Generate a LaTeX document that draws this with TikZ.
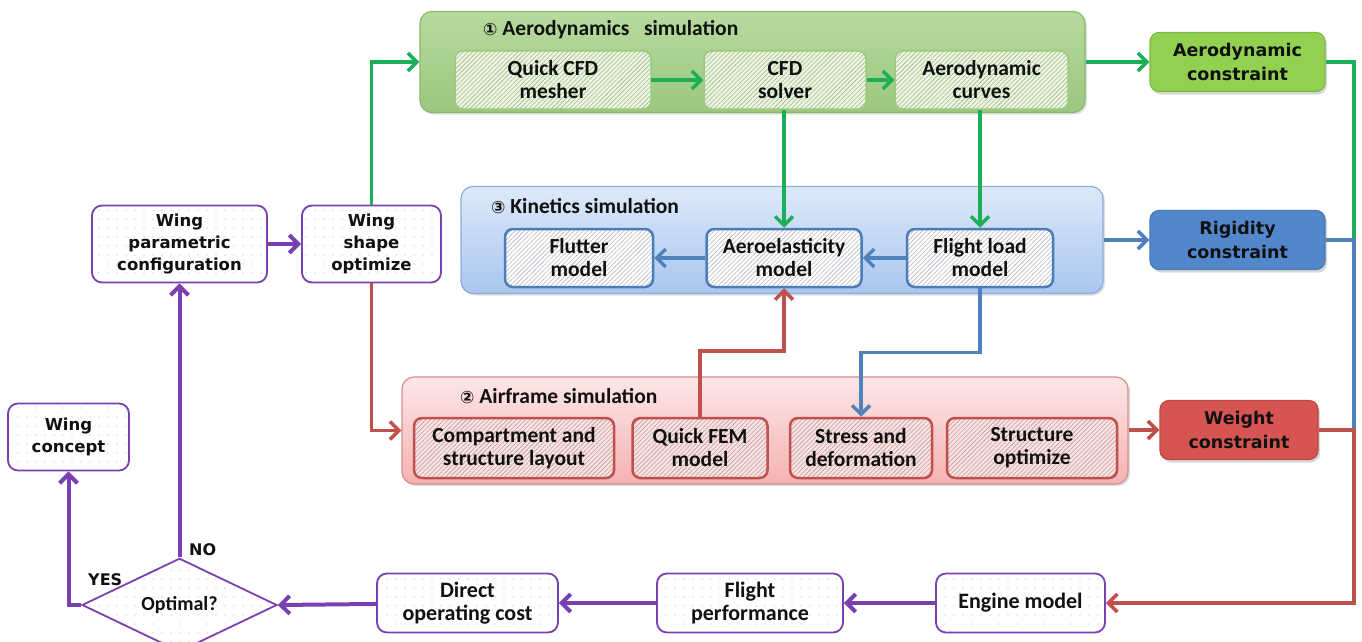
\documentclass[tikz,border=0pt]{standalone}
\usepackage{fontspec}
\setmainfont{Carlito}
\newfontfamily\widefont{DejaVu Sans}
\newfontfamily\symfont{DejaVu Sans}
\usetikzlibrary{patterns.meta,arrows.meta,shadows,shapes.geometric,calc}
\definecolor{grntop}{HTML}{B7DA9E}
\definecolor{grnbot}{HTML}{9CC77F}
\definecolor{grnborder}{HTML}{86B866}
\definecolor{grnarrow}{HTML}{1DAE5A}
\definecolor{grninner}{HTML}{EDF5E3}
\definecolor{grnhatch}{HTML}{9FB98A}
\definecolor{grninb}{HTML}{9DC97F}
\definecolor{aerocon}{HTML}{92D050}
\definecolor{aeroconb}{HTML}{7DB845}
\definecolor{bluetop}{HTML}{DDE9F9}
\definecolor{bluebot}{HTML}{A9C6EF}
\definecolor{blueborder}{HTML}{8DACDB}
\definecolor{bluearrow}{HTML}{4F81BD}
\definecolor{blueinb}{HTML}{4D7DB8}
\definecolor{bluehatch}{HTML}{B4B9C0}
\definecolor{rigcon}{HTML}{5387CC}
\definecolor{rigconb}{HTML}{4A79B8}
\definecolor{redtop}{HTML}{FDE6E6}
\definecolor{redbot}{HTML}{F5B2B2}
\definecolor{redborder}{HTML}{D98C8C}
\definecolor{redarrow}{HTML}{C0504D}
\definecolor{redinner}{HTML}{FAE3E3}
\definecolor{redhatch}{HTML}{BF9C9C}
\definecolor{redinb}{HTML}{C0504D}
\definecolor{weightcon}{HTML}{D65552}
\definecolor{weightconb}{HTML}{BF4744}
\definecolor{purp}{HTML}{7A3FB0}
\definecolor{dotcol}{HTML}{B8B8B8}
\definecolor{txt}{HTML}{111111}
\tikzset{
  basebox/.style={rounded corners=8pt, align=center, inner sep=0pt, text=txt,
    font=\fontsize{21.5}{23}\selectfont\bfseries},
  gcont/.style={rounded corners=12pt, draw=grnborder, line width=1.2pt,
    top color=grntop, bottom color=grnbot, drop shadow={opacity=0.25,shadow xshift=2pt,shadow yshift=-2pt}},
  bcont/.style={rounded corners=12pt, draw=blueborder, line width=1.2pt,
    top color=bluetop, bottom color=bluebot, drop shadow={opacity=0.25,shadow xshift=2pt,shadow yshift=-2pt}},
  rcont/.style={rounded corners=12pt, draw=redborder, line width=1.2pt,
    top color=redtop, bottom color=redbot, drop shadow={opacity=0.25,shadow xshift=2pt,shadow yshift=-2pt}},
  ginner/.style={basebox, draw=grninb, line width=1.5pt, preaction={fill=grninner},
    pattern={Lines[angle=45,distance=3.2pt,line width=0.6pt]}, pattern color=grnhatch},
  binner/.style={basebox, draw=blueinb, line width=2.5pt, preaction={fill=white},
    pattern={Lines[angle=45,distance=3.2pt,line width=0.6pt]}, pattern color=bluehatch},
  rinner/.style={basebox, draw=redinb, line width=2.5pt, preaction={fill=redinner},
    pattern={Lines[angle=45,distance=3.2pt,line width=0.6pt]}, pattern color=redhatch},
  conbox/.style={rounded corners=9pt, align=center, inner sep=0pt, text=txt, line width=1.2pt,
    font=\widefont\fontsize{17.5}{24}\selectfont\bfseries,
    drop shadow={opacity=0.3,shadow xshift=2pt,shadow yshift=-3pt}},
  pbox/.style={rounded corners=10pt, align=center, inner sep=0pt, text=txt, draw=purp, line width=1.8pt,
    preaction={fill=white}, pattern={Dots[distance=9pt,radius=0.6pt]}, pattern color=dotcol},
  pwide/.style={pbox, font=\widefont\fontsize{16.5}{22}\selectfont\bfseries},
  pnarrow/.style={pbox, font=\fontsize{22}{23}\selectfont\bfseries},
  titletext/.style={anchor=base west, inner sep=0pt, text=txt, font=\fontsize{21.5}{23}\selectfont\bfseries},
  lab/.style={inner sep=0pt, text=txt, font=\widefont\fontsize{16}{18}\selectfont\bfseries},
  arr/.style={line width=3.5pt, -{Straight Barb[length=9pt,width=18pt]}},
  garr/.style={arr, draw=grnarrow},
  barr/.style={arr, draw=bluearrow},
  rarr/.style={arr, draw=redarrow},
  parr/.style={arr, draw=purp, line width=4pt},
  gline/.style={line width=3.5pt, draw=grnarrow},
  bline/.style={line width=3.5pt, draw=bluearrow},
}
\begin{document}
\begin{tikzpicture}[x=1pt,y=-1pt]
\useasboundingbox[fill=white] (0,0) rectangle (1362,642);
% containers
\node[gcont, minimum width=665pt, minimum height=101pt] (green) at (752.5,62) {};
\node[bcont, minimum width=642pt, minimum height=107pt] (blue) at (782,240) {};
\node[rcont, minimum width=726pt, minimum height=107pt] (red) at (765,430.5) {};
% titles
\node[titletext] (gt) at (483,36) {{\symfont\fontsize{17}{20}\selectfont ①} Aerodynamics\ \ \ simulation};
\node[titletext] (bt) at (491,213) {{\symfont\fontsize{17}{20}\selectfont ③} Kinetics simulation};
\node[titletext] (rt) at (460,403) {{\symfont\fontsize{17}{20}\selectfont ②} Airframe simulation};
% green inner
\node[ginner, minimum width=196pt, minimum height=58pt] (mesh) at (553,80) {Quick CFD\\mesher};
\node[ginner, minimum width=162pt, minimum height=58pt] (cfd) at (785,80) {CFD\\solver};
\node[ginner, minimum width=173pt, minimum height=58pt] (curves) at (981.5,80) {Aerodynamic\\curves};
% blue inner
\node[binner, minimum width=148pt, minimum height=58pt] (flutter) at (579,258) {Flutter\\model};
\node[binner, minimum width=155pt, minimum height=58pt] (aeroel) at (784,258) {Aeroelasticity\\model};
\node[binner, minimum width=146pt, minimum height=58pt] (fload) at (980,258) {Flight load\\model};
% red inner
\node[rinner, minimum width=200pt, minimum height=60pt] (comp) at (514,448) {Compartment and\\structure layout};
\node[rinner, minimum width=135pt, minimum height=60pt] (fem) at (700,448) {Quick FEM\\model};
\node[rinner, minimum width=142pt, minimum height=60pt] (stress) at (861,448) {Stress and\\deformation};
\node[rinner, minimum width=170pt, minimum height=60pt] (sopt) at (1032,448) {Structure\\optimize};
% constraint boxes
\node[conbox, fill=aerocon, draw=aeroconb, minimum width=175pt, minimum height=59pt] (acon) at (1237.5,62) {Aerodynamic\\constraint};
\node[conbox, fill=rigcon, draw=rigconb, minimum width=175pt, minimum height=59pt] (rcon) at (1237.5,240) {Rigidity\\constraint};
\node[conbox, fill=weightcon, draw=weightconb, minimum width=158pt, minimum height=59pt] (wcon) at (1239,430) {Weight\\constraint};
% purple boxes
\node[pwide, minimum width=175pt, minimum height=77pt] (wpc) at (179.5,244) {Wing\\parametric\\configuration};
\node[pwide, minimum width=139pt, minimum height=77pt] (wso) at (371.5,244) {Wing\\shape\\optimize};
\node[pwide, minimum width=121pt, minimum height=67pt] (concept) at (68.5,437) {Wing\\concept};
\node[pnarrow, minimum width=181pt, minimum height=59pt] (doc) at (467.5,603) {Direct\\operating cost};
\node[pnarrow, minimum width=186pt, minimum height=59pt] (fperf) at (750,603) {Flight\\performance};
\node[pnarrow, minimum width=169pt, minimum height=59pt] (engine) at (1020.5,603) {Engine model};
\node[diamond, draw=purp, line width=1.8pt, minimum width=195pt, minimum height=80pt, inner sep=0pt,
  preaction={fill=white}, pattern={Dots[distance=9pt,radius=0.6pt]}, pattern color=dotcol,
  text=txt, font=\fontsize{20}{22}\selectfont\bfseries] (opt) at (179.5,605) {Optimal?};
% labels
\node[lab, anchor=base west] (no) at (189,555) {NO};
\node[lab, anchor=base west] (yes) at (88,585) {YES};
% right collector
\coordinate (rgt) at (1354,0);
% connectors
\draw[parr] (wpc) -- (wso);
\draw[garr] (wso.north) |- (green.west);
\draw[rarr] (wso.south) |- (red.west);
\draw[garr] (mesh) -- (cfd);
\draw[garr] (cfd) -- (curves);
\draw[garr] (green.east |- acon.west) -- (acon.west);
\draw[garr] (cfd.south -| aeroel.north) -- (aeroel.north);
\draw[garr] (curves.south -| fload.north) -- (fload.north);
\draw[barr] (fload) -- (aeroel);
\draw[barr] (aeroel) -- (flutter);
\draw[barr] (blue.east |- rcon.west) -- (rcon.west);
\draw[barr] (fload.south) -- ($(fload.south)+(0,64)$) -| (stress.north);
\draw[rarr] (fem.north) -- ($(fem.north)+(0,-66)$) -| (aeroel.south);
\draw[rarr] (red.east |- wcon.west) -- (wcon.west);
\draw[gline] (acon.east) -| (rgt |- rcon.east);
\draw[bline] (rcon.east) -| (rgt |- wcon.east);
\draw[rarr] (wcon.east) -| (rgt |- engine.east) -- (engine.east);
\draw[parr] (engine) -- (fperf);
\draw[parr] (fperf) -- (doc);
\draw[parr] (doc) -- (opt.east);
\draw[parr] (opt.north) -- (opt.north |- wpc.south);
\draw[parr] (opt.west) -| (concept.south);
\end{tikzpicture}
\end{document}
